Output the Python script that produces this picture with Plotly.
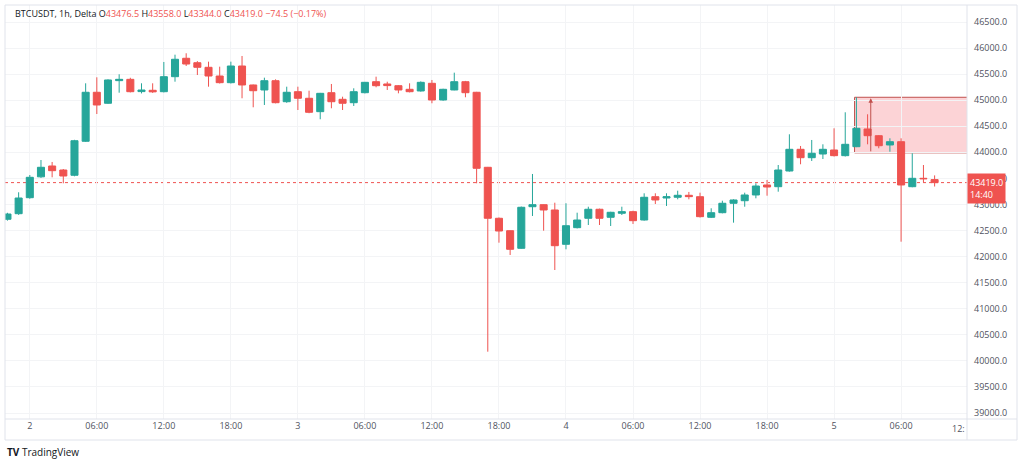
import pandas as pd
import plotly.graph_objects as go

# ---------------- data ----------------
times = pd.date_range("2022-03-01 22:00", periods=84, freq="h")

opens = [42716, 42823, 43130, 43530, 43738, 43661, 43560, 44212, 45152, 44941,
         45375, 45400, 45165, 45190, 45163, 45451, 45804, 45719, 45631, 45464,
         45336, 45656, 45292, 45196, 45374, 44971, 45163, 45037, 44780, 45144,
         45017, 44952, 45144, 45355, 45311, 45278, 45209, 45177, 45324, 45004,
         45196, 45355, 45152, 43713, 42735, 42497, 42159, 42957, 42996, 42894,
         42236, 42555, 42735, 42908, 42754, 42831, 42862, 42702, 43149, 43124,
         43138, 43176, 43149, 42754, 42842, 43023, 43072, 43182, 43374, 43341,
         43642, 44058, 43897, 43968, 44045, 43936, 44108, 44448, 44319, 44141,
         44204, 43341, 43502, 43476.5]
highs = [42840, 43234, 43565, 43853, 43815, 43680, 44240, 45324, 45439, 45400,
         45497, 45430, 45324, 45324, 45733, 45873, 45900, 45750, 45739, 45643,
         45739, 45848, 45300, 45432, 45400, 45259, 45259, 45182, 45140, 45311,
         45067, 45228, 45350, 45451, 45355, 45290, 45324, 45360, 45388, 45220,
         45528, 45370, 45160, 43720, 42750, 42500, 42960, 43585, 43000, 43034,
         43023, 42842, 42957, 42920, 42860, 42957, 42880, 43214, 43214, 43214,
         43264, 43240, 43226, 42927, 43072, 43100, 43226, 43406, 43470, 43757,
         44346, 44122, 44237, 44154, 44461, 44768, 45056, 44730, 44330, 44269,
         44269, 43982, 43757, 43558.0]
lows = [42690, 42800, 43110, 43510, 43521, 43406, 43540, 44200, 44735, 44930,
        45144, 45150, 45130, 45140, 45150, 45355, 45656, 45483, 45259, 45320,
        45320, 45037, 44864, 44908, 44940, 44950, 44812, 44750, 44634, 44845,
        44812, 44889, 45130, 45248, 45196, 45132, 45150, 45165, 44941, 44990,
        45190, 45056, 43406, 40176, 42267, 42031, 42150, 42779, 42497, 41743,
        42140, 42540, 42606, 42606, 42587, 42798, 42626, 42690, 43009, 42971,
        43099, 43099, 42750, 42740, 42830, 42651, 42957, 43118, 43168, 43245,
        43630, 43771, 43834, 43872, 43920, 43920, 44100, 44154, 44078, 44012,
        42286, 43330, 43425, 43344.0]
closes = [42817, 43124, 43521, 43713, 43648, 43546, 44223, 45152, 44908, 45388,
          45400, 45163, 45195, 45160, 45451, 45785, 45694, 45631, 45464, 45336,
          45656, 45292, 45182, 45374, 44952, 45152, 45037, 44768, 45132, 44971,
          44941, 45163, 45343, 45278, 45280, 45196, 45163, 45343, 45004, 45209,
          45355, 45144, 43694, 42735, 42491, 42140, 42946, 42996, 42894, 42209,
          42593, 42702, 42908, 42735, 42850, 42862, 42689, 43138, 43086, 43149,
          43176, 43150, 42766, 42842, 43023, 43086, 43182, 43354, 43335, 43661,
          44058, 43897, 43982, 44058, 43936, 44154, 44461, 44319, 44127, 44204,
          43374, 43502, 43493.5, 43419.0]

tick_times = ["2022-03-02 00:00", "2022-03-02 06:00", "2022-03-02 12:00", "2022-03-02 18:00",
              "2022-03-03 00:00", "2022-03-03 06:00", "2022-03-03 12:00", "2022-03-03 18:00",
              "2022-03-04 00:00", "2022-03-04 06:00", "2022-03-04 12:00", "2022-03-04 18:00",
              "2022-03-05 00:00", "2022-03-05 06:00"]
tick_text = ["2", "06:00", "12:00", "18:00", "3", "06:00", "12:00", "18:00",
             "4", "06:00", "12:00", "18:00", "5", "06:00"]
price_ticks = [39000, 39500, 40000, 40500, 41000, 41500, 42000, 42500,
               43000, 43500, 44000, 44500, 45000, 45500, 46000, 46500]

zone_low, zone_high = 43990, 45056
zone_start = "2022-03-05 01:50"
arrow_time = "2022-03-05 03:17"
countdown = "14:40"

# ---------------- style ----------------
UP, DOWN = "#26a69a", "#ef5350"
W, H = 1024, 467
PL, PR, PT, PB = 5, 967, 5, 419      # plot area in pixels
GRID = "#f3f4f6"
FRAME = "#e0e3eb"
TXT = "#50535e"
FONT = "Open Sans"

def px(x):
    return (x - PL) / (PR - PL)

def py(y):
    return (PB - y) / (PB - PT)

fig = go.Figure()
fig.add_trace(go.Candlestick(
    x=times, open=opens, high=highs, low=lows, close=closes,
    increasing=dict(line=dict(color=UP, width=1), fillcolor=UP),
    decreasing=dict(line=dict(color=DOWN, width=1), fillcolor=DOWN),
    whiskerwidth=0, showlegend=False, hoverinfo="x+y",
))

t0 = times[0]
x_range = [t0 - pd.Timedelta(hours=0.22), t0 + pd.Timedelta(hours=85.9)]

shapes = [
    # current price dotted line
    dict(type="line", xref="paper", x0=0, x1=1, yref="y", y0=closes[-1], y1=closes[-1],
         line=dict(color=DOWN, width=1, dash="dot"), layer="below"),
    # zone rectangle
    dict(type="rect", xref="x", x0=zone_start, x1=t0 + pd.Timedelta(hours=90),
         yref="y", y0=zone_low, y1=zone_high,
         fillcolor="rgba(242,54,69,0.22)", line=dict(color="#c0504d", width=1), layer="below"),
    # frame
    dict(type="rect", xref="paper", yref="paper", x0=px(5), x1=px(1017), y0=py(440), y1=py(5),
         line=dict(color=FRAME, width=1), fillcolor="rgba(0,0,0,0)"),
    dict(type="line", xref="paper", yref="paper", x0=px(5), x1=px(1017), y0=py(419), y1=py(419),
         line=dict(color=FRAME, width=1)),
    dict(type="line", xref="paper", yref="paper", x0=1, x1=1, y0=py(440), y1=py(5),
         line=dict(color=FRAME, width=1)),
]

chg = closes[-1] - closes[-2]
pct = chg / closes[-2] * 100
red_val = lambda s: f"<span style='color:{DOWN}'>{s}</span>"
header = ("BTCUSDT, 1h, Delta&nbsp;"
          f"O{red_val(f'{opens[-1]:.1f}')} H{red_val(f'{highs[-1]:.1f}')} "
          f"L{red_val(f'{lows[-1]:.1f}')} C{red_val(f'{closes[-1]:.1f}')} "
          + red_val(f"{chg:.1f} ({pct:.2f}%)".replace("-", "−")))

annotations = [
    dict(xref="paper", yref="paper", x=px(13), y=py(14), xanchor="left", yanchor="middle",
         text=header, showarrow=False, font=dict(family=FONT, size=9, color="#131722")),
    dict(xref="paper", yref="y", x=1, y=closes[-1], xanchor="left", yanchor="middle", yshift=-6,
         text=f"{closes[-1]:.1f}<br>{countdown}", showarrow=False, align="left",
         bgcolor=DOWN, borderpad=2, font=dict(family=FONT, size=9, color="white")),
    dict(xref="x", yref="y", x=arrow_time, y=zone_high - 20, axref="x", ayref="y",
         ax=arrow_time, ay=zone_low, text="", showarrow=True, arrowhead=2, arrowsize=0.9,
         arrowwidth=1, arrowcolor="#c0504d"),
    dict(xref="paper", yref="paper", x=1, y=py(428), xanchor="right", yanchor="middle",
         text="12:", showarrow=False, font=dict(family=FONT, size=9, color=TXT)),
    dict(xref="paper", yref="paper", x=px(5), y=py(452), xanchor="left", yanchor="middle",
         text="<b>TV</b> TradingView", showarrow=False,
         font=dict(family=FONT, size=10, color="#131722")),
]

fig.update_layout(
    width=W, height=H,
    margin=dict(l=PL, r=W - PR, t=PT, b=H - PB, pad=0),
    paper_bgcolor="white", plot_bgcolor="white",
    boxgap=0.1, boxgroupgap=0.3,
    shapes=shapes, annotations=annotations,
    xaxis=dict(type="date", range=x_range, rangeslider=dict(visible=False),
               tickmode="array", tickvals=tick_times, ticktext=tick_text,
               showgrid=True, gridcolor=GRID, gridwidth=1, ticks="", showline=False,
               zeroline=False, tickfont=dict(family=FONT, size=9, color=TXT)),
    yaxis=dict(side="right", range=[38885, 46826], tickmode="array", tickvals=price_ticks,
               tickformat=".1f", showgrid=True, gridcolor=GRID, gridwidth=1, ticks="",
               showline=False, zeroline=False, ticklabelstandoff=6,
               tickfont=dict(family=FONT, size=9, color=TXT)),
    hovermode=False,
)

fig.write_html("out.html", config={"displayModeBar": False},
               post_script="document.body.style.margin='0';document.body.style.padding='0';")
